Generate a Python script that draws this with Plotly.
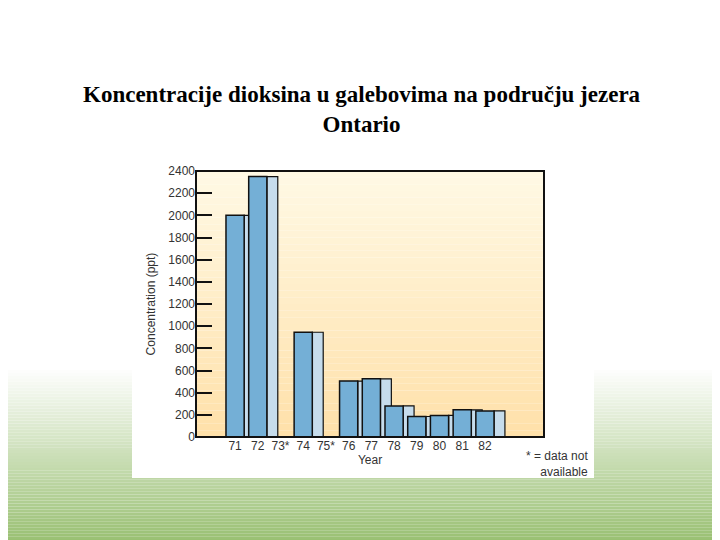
import plotly.graph_objects as go

years = ["71", "72", "73*", "74", "75*", "76", "77", "78", "79", "80", "81", "82"]
values = [2000, 2350, None, 945, None, 505, 525, 280, 185, 195, 245, 235]
yticks = [0, 200, 400, 600, 800, 1000, 1200, 1400, 1600, 1800, 2000, 2200, 2400]

OFF = 8  # page body margin
W, H = 720 - OFF, 540 - OFF
L, R, T, B = 196 - OFF, 544 - OFF, 171 - OFF, 437 - OFF
def px(x): return (x - OFF - L) / (R - L)
def py(y): return (B - (y - OFF)) / (B - T)

fig = go.Figure()
fig.add_bar(x=years, y=values, width=0.48, offset=0.4,
            marker=dict(color="#c6dcec", line=dict(color="#111", width=1.2)))
fig.add_bar(x=years, y=values, width=0.8, offset=-0.4,
            marker=dict(color="#74afd6", line=dict(color="#111", width=1.5)))

shapes = []
n = 60
for i in range(n):
    y0 = 370 + i * (548 - 370) / n
    y1 = 370 + (i + 1) * (548 - 370) / n
    t = (i + 1) / n
    r = int(255 + (150 - 255) * t); g = int(255 + (190 - 255) * t); b = int(255 + (110 - 255) * t)
    shapes.append(dict(type="rect", xref="paper", yref="paper", x0=px(-10), x1=px(730),
                       y0=py(y1), y1=py(y0), fillcolor=f"rgb({r},{g},{b})", line_width=0, layer="below"))
shapes.append(dict(type="rect", xref="paper", yref="paper", x0=px(132), x1=px(594), y0=py(478), y1=py(160),
                   fillcolor="white", line_width=0, layer="below"))
m = 40
for i in range(m):
    y0 = 171 + i * (437 - 171) / m; y1 = 171 + (i + 1) * (437 - 171) / m
    t = (i + 1) / m
    r = 255; g = int(250 + (225 - 250) * t); b = int(230 + (170 - 230) * t)
    shapes.append(dict(type="rect", xref="paper", yref="paper", x0=0, x1=1, y0=py(y1), y1=py(y0),
                       fillcolor=f"rgb({r},{g},{b})", line_width=0, layer="below"))
shapes.append(dict(type="rect", xref="paper", yref="paper", x0=0, x1=1, y0=0, y1=1,
                   line=dict(color="#111", width=2), fillcolor="rgba(0,0,0,0)"))

fig.update_layout(
    width=W, height=H, margin=dict(l=L, r=W - R, t=T, b=H - B),
    paper_bgcolor="white", plot_bgcolor="rgba(0,0,0,0)", showlegend=False,
    shapes=shapes, barmode="overlay",
    xaxis=dict(type="category", range=[-1.72, 13.6], showgrid=False, ticks="",
               tickfont=dict(family="Liberation Sans, Arial", size=12, color="#333"),
               title=dict(text="Year", font=dict(family="Liberation Sans, Arial", size=12, color="#333"), standoff=2)),
    yaxis=dict(range=[0, 2400], tickvals=yticks, showgrid=False, ticks="inside", ticklen=16, tickwidth=1.5,
               tickcolor="#111", zeroline=False,
               tickfont=dict(family="Liberation Sans, Arial", size=12, color="#333"),
               title=dict(text="Concentration (ppt)", font=dict(family="Liberation Sans, Arial", size=12, color="#333"), standoff=10)),
    annotations=[
        dict(text="<b>Koncentracije dioksina u galebovima na području jezera<br>Ontario</b>", xref="paper", yref="paper",
             x=px(362), y=py(80), yanchor="top", showarrow=False,
             font=dict(family="Liberation Serif, Times New Roman", size=23, color="black")),
        dict(text="* = data not<br>available", xref="paper", yref="paper", x=px(590), y=py(447), xanchor="right",
             yanchor="top", align="right", showarrow=False,
             font=dict(family="Liberation Sans, Arial", size=12, color="#333")),
    ],
)
fig.write_html("out.html")
